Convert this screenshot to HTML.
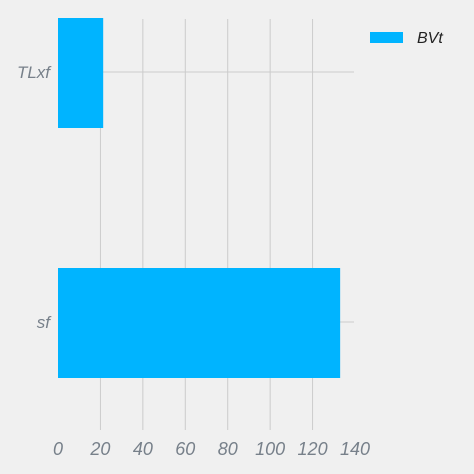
<!DOCTYPE html>
<html><head><meta charset="utf-8"><style>
body{margin:0;background:#f0f0f0;}
svg{display:block;font-family:"Liberation Sans",sans-serif;}
</style></head><body>
<svg width="474" height="474">
<rect width="474" height="474" fill="#f0f0f0"/>
<g id="grid"></g><g id="bars"></g><g id="labels"></g>
<g>
<rect x="370" y="32" width="33" height="11" fill="#00b4ff"/>
<text x="417" y="43" font-size="16" font-style="italic" fill="#222">BVt</text>
</g>
</svg>
<script>
const categories=["TLxf","sf"];
const values=[21.3,133];
const xTicks=[0,20,40,60,80,100,120,140];
const plotX0=58,plotX1=355,xMax=140,plotTop=19,plotBottom=430;
const xs=v=>plotX0+(plotX1-plotX0)*v/xMax;
const centers=[72,322],bandH=110;
const ys=i=>centers[0]+(centers[1]-centers[0])*i;
const NS="http://www.w3.org/2000/svg";
function mk(t,a,p){const e=document.createElementNS(NS,t);for(const k in a)e.setAttribute(k,a[k]);document.getElementById(p).appendChild(e);return e;}
xTicks.forEach(t=>{
 if(t>0&&t<xMax){const l=mk('line',{x1:xs(t),x2:xs(t),y1:plotTop,y2:plotBottom,stroke:'#cbcbcb','stroke-width':1},'grid');
 
 }
 const tx=mk('text',{x:xs(t),y:455,'text-anchor':'middle','font-size':18,'font-style':'italic',fill:'#77808a'},'labels');
 tx.textContent=t;
 
 
});
categories.forEach((c,i)=>{
 const g=mk('line',{x1:plotX0,x2:354,y1:ys(i),y2:ys(i),stroke:'#cbcbcb','stroke-width':1},'grid');
 
 
 const r=mk('rect',{x:plotX0,y:ys(i)-bandH/2+1,width:xs(values[i])-plotX0,height:bandH,fill:'#00b4ff'},'bars');
 
 
 const t=mk('text',{x:50,y:ys(i)+6,'text-anchor':'end','font-size':17,'font-style':'italic',fill:'#77808a'},'labels');
 t.textContent=c;
 
 
});
</script>
</body></html>
